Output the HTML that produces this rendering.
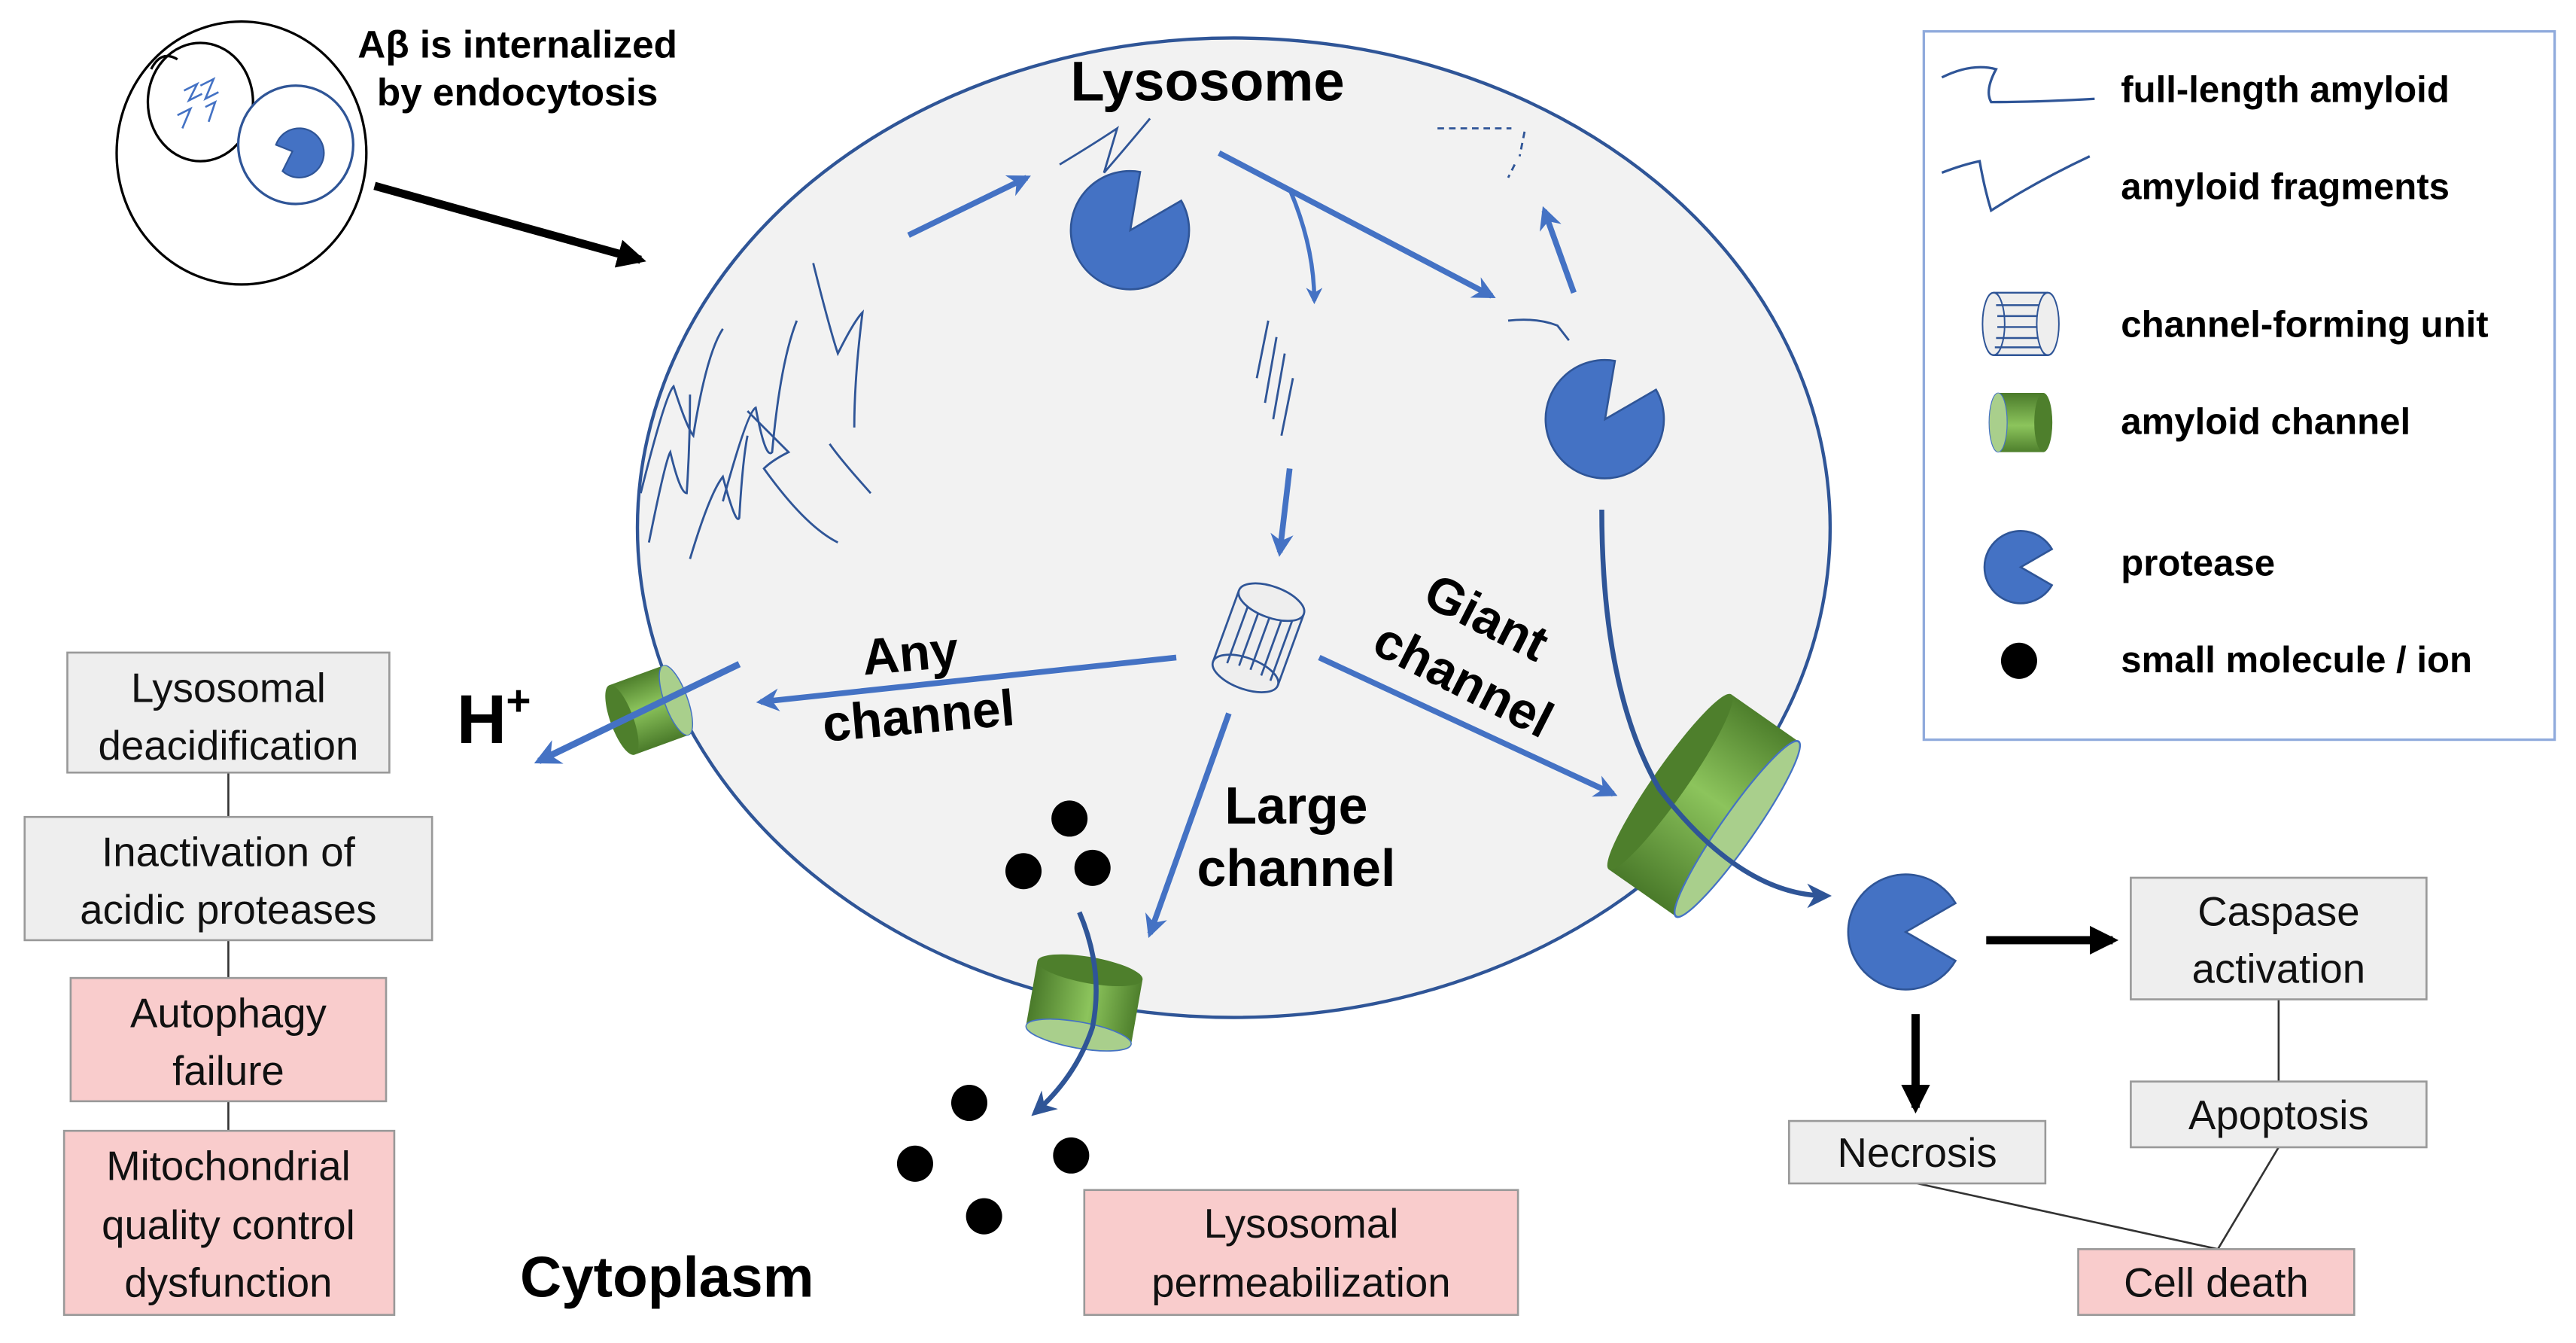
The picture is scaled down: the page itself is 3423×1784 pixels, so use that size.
<!DOCTYPE html>
<html><head><meta charset="utf-8"><style>
html,body{margin:0;padding:0;background:#fff;}
svg{display:block;}
text{font-family:"Liberation Sans",Arial,sans-serif;}
.b{font-weight:bold;fill:#000;}
.bx{font-size:25px;fill:#111;text-anchor:middle;}
.lg{font-size:22.5px;font-weight:bold;}
</style></head><body>
<svg width="3423" height="1784" viewBox="0 0 1568 817" xmlns="http://www.w3.org/2000/svg">
<defs>
<linearGradient id="g" x1="0" y1="0" x2="0" y2="1">
<stop offset="0" stop-color="#4e7f2c"/><stop offset="0.45" stop-color="#8cc45c"/><stop offset="1" stop-color="#4a7a2a"/>
</linearGradient>
<marker id="ab" viewBox="0 0 10 10" refX="8" refY="5" markerWidth="4" markerHeight="4" orient="auto"><path d="M0,0 L10,5 L0,10 L3,5 Z" fill="#4472c4"/></marker>
<marker id="ad" viewBox="0 0 10 10" refX="8" refY="5" markerWidth="5" markerHeight="5" orient="auto"><path d="M0,0 L10,5 L0,10 L3,5 Z" fill="#2f5597"/></marker>
<marker id="ak" viewBox="0 0 10 10" refX="8" refY="5" markerWidth="3.5" markerHeight="3.5" orient="auto"><path d="M0,0 L10,5 L0,10 Z" fill="#000"/></marker>
<g id="cyl"><rect x="-25" y="-50" width="50" height="100" fill="url(#g)"/><ellipse cx="-25" cy="0" rx="10" ry="50" fill="#4e7f2c"/><ellipse cx="25" cy="0" rx="10" ry="50" fill="#a9cf8c" stroke="#4472c4" stroke-width="1"/></g>
<g id="cfu" fill="#eee" stroke="#2f5597" stroke-width="1.2">
<rect x="-22" y="-20" width="44" height="40" stroke="none"/>
<ellipse cx="-22" cy="0" rx="9" ry="20"/>
<line x1="-22" y1="-20" x2="22" y2="-20"/><line x1="-22" y1="20" x2="22" y2="20"/>
<path d="M-20,-12 L24,-12 M-19,-5 L25,-5 M-19,2 L25,2 M-20,9 L24,9 M-21,15 L23,15" fill="none"/>
<ellipse cx="22" cy="0" rx="9" ry="20"/>
</g>
</defs>

<!-- small cell -->
<ellipse cx="147" cy="93" rx="76" ry="80" fill="#fff" stroke="#000" stroke-width="1.5"/>
<ellipse cx="122" cy="62" rx="32" ry="36" fill="#fff" stroke="#000" stroke-width="1.5"/>
<path d="M92,42 Q98,30 108,36" fill="none" stroke="#000" stroke-width="1.5"/>
<path d="M112,55 l8,-4 l-5,10 l8,-4 M122,52 l8,-4 l-5,12 l8,-4 M108,70 l8,-4 l-5,12 M125,65 l6,-3 l-4,12" fill="none" stroke="#4472c4" stroke-width="1.2"/>
<ellipse cx="180" cy="88" rx="35" ry="36" fill="#fff" stroke="#2f5597" stroke-width="1.5"/>
<path d="M178,92 L168,88 A15,15 0 1 1 172,104 Z" fill="#4472c4" stroke="#2f5597"/>
<text class="b" x="315" y="35" font-size="23.5" text-anchor="middle">Aβ is internalized</text>
<text class="b" x="315" y="64" font-size="23.5" text-anchor="middle">by endocytosis</text>
<line x1="228" y1="113" x2="390" y2="158" stroke="#000" stroke-width="5" marker-end="url(#ak)"/>

<!-- lysosome -->
<ellipse cx="751" cy="321" rx="363" ry="298" fill="#f2f2f2" stroke="#2f5597" stroke-width="2"/>
<text class="b" x="735" y="61" font-size="34" text-anchor="middle">Lysosome</text>

<!-- fibrils -->
<g fill="none" stroke="#2f5597" stroke-width="1.3">
<path d="M390,300 Q405,240 410,235 Q418,260 422,265 Q430,215 440,200"/>
<path d="M440,305 Q455,250 460,248 Q466,280 470,275 Q475,220 485,195"/>
<path d="M395,330 Q405,280 408,275 Q414,300 418,300 Q420,270 420,240"/>
<path d="M420,340 Q432,300 440,290 Q448,320 450,315 Q452,280 455,265"/>
<path d="M455,250 Q475,270 480,275 Q470,280 465,285 Q490,320 510,330"/>
<path d="M495,160 Q505,200 510,215 Q520,195 525,190 Q520,230 520,260"/>
<path d="M530,300 Q512,280 505,270"/>
</g>
<line x1="553" y1="143" x2="625" y2="108" stroke="#4472c4" stroke-width="3.5" marker-end="url(#ab)"/>
<path d="M645,100 Q665,88 680,78 Q675,95 672,105 Q685,90 700,72" fill="none" stroke="#2f5597" stroke-width="1.3"/>
<path d="M688,140 L694,104.5 A36,36 0 1 0 719,122 Z" fill="#4472c4" stroke="#2f5597" stroke-width="1.2"/>
<line x1="742" y1="93" x2="908" y2="180" stroke="#4472c4" stroke-width="3.5" marker-end="url(#ab)"/>
<path d="M785,115 Q800,150 800,183" fill="none" stroke="#4472c4" stroke-width="2.5" marker-end="url(#ab)"/>
<path d="M772,195 L765,230 M777,205 L770,245 M782,215 L775,255 M787,230 L780,265" stroke="#2f5597" stroke-width="1.3"/>
<line x1="785" y1="285" x2="779" y2="336" stroke="#4472c4" stroke-width="3.5" marker-end="url(#ab)"/>
<line x1="958" y1="178" x2="940" y2="128" stroke="#4472c4" stroke-width="3.5" marker-end="url(#ab)"/>
<path d="M875,78 L920,78 M928,80 L925,95 M922,100 L918,108" stroke="#2f5597" stroke-width="1.3" stroke-dasharray="4,3" fill="none"/>
<path d="M918,195 Q935,193 948,198 L955,207" stroke="#2f5597" stroke-width="1.3" fill="none"/>
<path d="M977,255 L983,219.5 A36,36 0 1 0 1008,237 Z" fill="#4472c4" stroke="#2f5597" stroke-width="1.2"/>

<use href="#cfu" transform="translate(766,388) rotate(-70) scale(1.05)"/>

<line x1="716" y1="400" x2="463" y2="427" stroke="#4472c4" stroke-width="3.5" marker-end="url(#ab)"/>
<line x1="803" y1="400" x2="982" y2="483" stroke="#4472c4" stroke-width="3.5" marker-end="url(#ab)"/>
<line x1="748" y1="434" x2="700" y2="568" stroke="#4472c4" stroke-width="3.5" marker-end="url(#ab)"/>

<text class="b" font-size="31" transform="translate(555,408) rotate(-5)" text-anchor="middle">Any</text>
<text class="b" font-size="31" transform="translate(560,446) rotate(-5)" text-anchor="middle">channel</text>
<text class="b" font-size="31" transform="translate(900,385) rotate(27)" text-anchor="middle">Giant</text>
<text class="b" font-size="31" transform="translate(886,423) rotate(27)" text-anchor="middle">channel</text>
<text class="b" font-size="32" x="789" y="501" text-anchor="middle">Large</text>
<text class="b" font-size="32" x="789" y="539" text-anchor="middle">channel</text>

<use href="#cyl" transform="translate(1037,490) rotate(35) scale(1,1.3)"/>
<path d="M975,310 Q975,420 1010,480 Q1060,545 1112,545" fill="none" stroke="#2f5597" stroke-width="3" marker-end="url(#ad)"/>
<use href="#cyl" transform="translate(395,432) rotate(-20) scale(0.7,0.45)"/>
<line x1="450" y1="404" x2="328" y2="463" stroke="#4472c4" stroke-width="4" marker-end="url(#ab)"/>
<text class="b" font-size="42" x="278" y="452">H</text>
<text class="b" font-size="26" x="308" y="435">+</text>
<use href="#cyl" transform="translate(660,610) rotate(100) scale(0.8,0.65)"/>
<path d="M657,555 Q672,590 665,625 Q655,655 630,677" fill="none" stroke="#2f5597" stroke-width="3" marker-end="url(#ad)"/>
<g fill="#000">
<circle cx="651" cy="498" r="11"/><circle cx="623" cy="530" r="11"/><circle cx="665" cy="528" r="11"/>
<circle cx="590" cy="671" r="11"/><circle cx="557" cy="708" r="11"/><circle cx="652" cy="703" r="11"/><circle cx="599" cy="740" r="11"/>
</g>

<path d="M1160,567 L1190.3,549.5 A35,35 0 1 0 1190.3,584.5 Z" fill="#4472c4" stroke="#2f5597" stroke-width="1.2"/>
<line x1="1209" y1="572" x2="1286" y2="572" stroke="#000" stroke-width="5" marker-end="url(#ak)"/>
<line x1="1166" y1="617" x2="1166" y2="674" stroke="#000" stroke-width="5" marker-end="url(#ak)"/>
<g stroke="#333" stroke-width="1.2">
<line x1="1387" y1="608" x2="1387" y2="658"/>
<line x1="1387" y1="698" x2="1350" y2="760"/>
<line x1="1167" y1="720" x2="1350" y2="760"/>
<line x1="139" y1="470" x2="139" y2="497"/><line x1="139" y1="572" x2="139" y2="595"/><line x1="139" y1="670" x2="139" y2="688"/>
</g>
<g stroke="#999" stroke-width="1.2">
<rect x="1297" y="534" width="180" height="74" fill="#eeeeee"/>
<rect x="1297" y="658" width="180" height="40" fill="#eeeeee"/>
<rect x="1089" y="682" width="156" height="38" fill="#eeeeee"/>
<rect x="1265" y="760" width="168" height="40" fill="#f9cccc"/>
<rect x="41" y="397" width="196" height="73" fill="#eeeeee"/>
<rect x="15" y="497" width="248" height="75" fill="#eeeeee"/>
<rect x="43" y="595" width="192" height="75" fill="#f9cccc"/>
<rect x="39" y="688" width="201" height="112" fill="#f9cccc"/>
<rect x="660" y="724" width="264" height="76" fill="#f9cccc"/>
</g>
<text class="bx" x="1387" y="563">Caspase</text><text class="bx" x="1387" y="598">activation</text>
<text class="bx" x="1387" y="687">Apoptosis</text>
<text class="bx" x="1167" y="710">Necrosis</text>
<text class="bx" x="1349" y="789">Cell death</text>
<text class="bx" x="139" y="427">Lysosomal</text><text class="bx" x="139" y="462">deacidification</text>
<text class="bx" x="139" y="527">Inactivation of</text><text class="bx" x="139" y="562">acidic proteases</text>
<text class="bx" x="139" y="625">Autophagy</text><text class="bx" x="139" y="660">failure</text>
<text class="bx" x="139" y="718">Mitochondrial</text><text class="bx" x="139" y="754">quality control</text><text class="bx" x="139" y="789">dysfunction</text>
<text class="bx" x="792" y="753">Lysosomal</text><text class="bx" x="792" y="789">permeabilization</text>
<text class="b" font-size="35" x="406" y="789" text-anchor="middle">Cytoplasm</text>

<rect x="1171" y="19" width="384" height="431" fill="#fff" stroke="#8faadc" stroke-width="1.5"/>
<path d="M1182,47 Q1200,38 1215,42 Q1208,55 1212,62 Q1240,62 1275,60" fill="none" stroke="#2f5597" stroke-width="1.5"/>
<path d="M1182,105 Q1195,100 1205,98 Q1208,115 1212,128 Q1240,110 1272,95" fill="none" stroke="#2f5597" stroke-width="1.5"/>
<use href="#cfu" transform="translate(1230,197) scale(0.75,0.95)"/>
<use href="#cyl" transform="translate(1230,257) rotate(180) scale(0.55,0.36)"/>
<path d="M1230,345 L1249,334 A22,22 0 1 0 1249,356 Z" fill="#4472c4" stroke="#2f5597" stroke-width="1.2"/>
<circle cx="1229" cy="402" r="11" fill="#000"/>
<text class="lg" x="1291" y="62">full-length amyloid</text>
<text class="lg" x="1291" y="121">amyloid fragments</text>
<text class="lg" x="1291" y="205">channel-forming unit</text>
<text class="lg" x="1291" y="264">amyloid channel</text>
<text class="lg" x="1291" y="350">protease</text>
<text class="lg" x="1291" y="409">small molecule / ion</text>
</svg>
</body></html>
